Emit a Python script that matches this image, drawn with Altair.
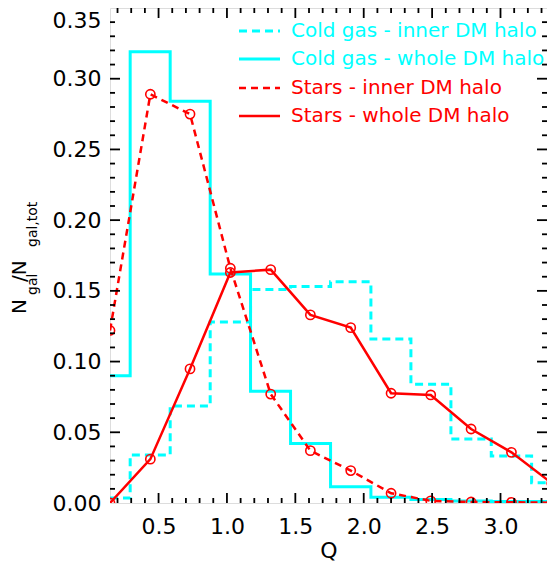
import altair as alt
import pandas as pd

# bin centres of the Q histograms
Q = [0.145, 0.44, 0.73, 1.025, 1.32, 1.61, 1.905, 2.2, 2.49, 2.785, 3.08, 3.375]

gas_inner = [0.0035, 0.034, 0.0686, 0.128, 0.151, 0.153, 0.1565, 0.116, 0.084, 0.0453, 0.0332, 0.0144]
gas_whole = [0.090, 0.319, 0.284, 0.162, 0.079, 0.042, 0.0115, 0.004, 0.0025, 0.0015, 0.001, 0.001]
stars_inner = [0.122, 0.289, 0.275, 0.166, 0.077, 0.037, 0.0229, 0.0069, 0.0015, 0.0007, 0.0005, 0.0002]
stars_whole = [0.0, 0.031, 0.0948, 0.163, 0.165, 0.133, 0.124, 0.0776, 0.0764, 0.0523, 0.0358, 0.014]

labels = [
    "Cold gas - inner DM halo",
    "Cold gas - whole DM halo",
    "Stars - inner DM halo",
    "Stars - whole DM halo",
]

x_major = [0.5, 1.0, 1.5, 2.0, 2.5, 3.0]
x_minor = [0.2, 0.3, 0.4, 0.6, 0.7, 0.8, 0.9, 1.1, 1.2, 1.3, 1.4, 1.6, 1.7, 1.8, 1.9,
           2.1, 2.2, 2.3, 2.4, 2.6, 2.7, 2.8, 2.9, 3.1, 3.2, 3.3]
y_major = [0.05, 0.10, 0.15, 0.20, 0.25, 0.30]
y_minor = [0.01, 0.02, 0.03, 0.04, 0.06, 0.07, 0.08, 0.09, 0.11, 0.12, 0.13, 0.14,
           0.16, 0.17, 0.18, 0.19, 0.21, 0.22, 0.23, 0.24, 0.26, 0.27, 0.28, 0.29,
           0.31, 0.32, 0.33, 0.34]
y_labels = [0.0, 0.05, 0.10, 0.15, 0.20, 0.25, 0.30, 0.35]

W, H = 437, 495
FONT = "DejaVu Sans"
CYAN = "#00FFFF"
RED = "#FF0000"

xs = alt.Scale(domain=[0.145, 3.34], nice=False, zero=False)
ys = alt.Scale(domain=[0.0, 0.35], nice=False)

x_axis = alt.Axis(values=x_major, format=".1f", ticks=False, tickSize=0, domain=False, grid=False,
                  labelFont=FONT, labelFontSize=22, labelColor="black", labelPadding=13,
                  title="Q", titleFont=FONT, titleFontSize=22, titleFontWeight="normal",
                  titleColor="black", titlePadding=3)
y_axis = alt.Axis(values=y_labels, format=".2f", ticks=False, tickSize=0, domain=False, grid=False,
                  labelFont=FONT, labelFontSize=22, labelColor="black", labelPadding=9,
                  labelOffset={"condition": {"test": "datum.value > 0.34", "value": 12}, "value": 0},
                  title=None)

df = pd.DataFrame({"Q": Q, "gas_inner": gas_inner, "gas_whole": gas_whole,
                   "stars_inner": stars_inner, "stars_whole": stars_whole})


def hist(col, dash):
    return alt.Chart(df).mark_line(
        color=CYAN, strokeWidth=3, interpolate="step", clip=True,
        strokeDash=dash, strokeCap="butt",
    ).encode(
        x=alt.X("Q:Q", scale=xs, axis=x_axis),
        y=alt.Y(f"{col}:Q", scale=ys, axis=y_axis),
    )


def stars(col, dash):
    line = alt.Chart(df).mark_line(color=RED, strokeWidth=2.5, clip=True, strokeDash=dash).encode(
        x=alt.X("Q:Q", scale=xs, axis=x_axis),
        y=alt.Y(f"{col}:Q", scale=ys, axis=y_axis),
    )
    pts = alt.Chart(df).mark_point(shape="circle", filled=False, color=RED, size=85,
                                   strokeWidth=1.6, clip=True, opacity=1).encode(
        x=alt.X("Q:Q", scale=xs, axis=x_axis),
        y=alt.Y(f"{col}:Q", scale=ys, axis=y_axis),
    )
    return line + pts


def xticks(vals, length):
    d = pd.DataFrame({"v": vals})
    bottom = alt.Chart(d).mark_rule(color="black", strokeWidth=1.8).encode(
        x=alt.X("v:Q", scale=xs, axis=x_axis), y=alt.value(H), y2=alt.value(H - length))
    top = alt.Chart(d).mark_rule(color="black", strokeWidth=1.8).encode(
        x=alt.X("v:Q", scale=xs, axis=x_axis), y=alt.value(0), y2=alt.value(length))
    return bottom + top


def yticks(vals, length):
    d = pd.DataFrame({"v": vals})
    left = alt.Chart(d).mark_rule(color="black", strokeWidth=1.8).encode(
        y=alt.Y("v:Q", scale=ys, axis=y_axis), x=alt.value(0), x2=alt.value(length))
    right = alt.Chart(d).mark_rule(color="black", strokeWidth=1.8).encode(
        y=alt.Y("v:Q", scale=ys, axis=y_axis), x=alt.value(W), x2=alt.value(W - length))
    return left + right


# legend in the upper right corner
legend_styles = [(CYAN, [8, 5], 3), (CYAN, [], 3), (RED, [7, 5], 2.5), (RED, [], 2.5)]
legend_rows = [23, 51, 80, 108]
legend = []
for lab, (col, dash, sw), ry in zip(labels, legend_styles, legend_rows):
    legend.append(alt.Chart(pd.DataFrame({"a": [0]})).mark_rule(
        color=col, strokeWidth=sw, strokeDash=dash, strokeCap="butt").encode(
        x=alt.value(129), x2=alt.value(170), y=alt.value(ry)))
    legend.append(alt.Chart(pd.DataFrame({"a": [0]})).mark_text(
        text=lab, color=col, font=FONT, fontSize=20, align="left", baseline="middle").encode(
        x=alt.value(181), y=alt.value(ry)))

# y title N_gal / N_gal,tot built from pieces
title_parts = [("N", 20, -84, 306), ("gal", 14, -73, 287), ("/N", 20, -84, 274), ("gal,tot", 14, -73, 239)]
ytitle = []
for txt, fs, tx, ty in title_parts:
    ytitle.append(alt.Chart(pd.DataFrame({"a": [0]})).mark_text(
        text=txt, font=FONT, fontSize=fs, color="black", angle=270, align="left",
        baseline="alphabetic").encode(x=alt.value(tx), y=alt.value(ty)))

chart = alt.layer(
    hist("gas_inner", [8, 5]),
    hist("gas_whole", []),
    stars("stars_inner", [7, 5]),
    stars("stars_whole", []),
    xticks(x_major, 10), xticks(x_minor, 5),
    yticks(y_major, 10), yticks(y_minor, 5),
    *legend, *ytitle,
).properties(
    width=W, height=H,
    autosize=alt.AutoSizeParams(type="none"),
    padding={"left": 102, "top": 0, "right": 0, "bottom": 58},
).configure_view(stroke="black", strokeWidth=2).configure(background="white")

chart.save("out.html", embed_options={"renderer": "svg", "actions": False})
